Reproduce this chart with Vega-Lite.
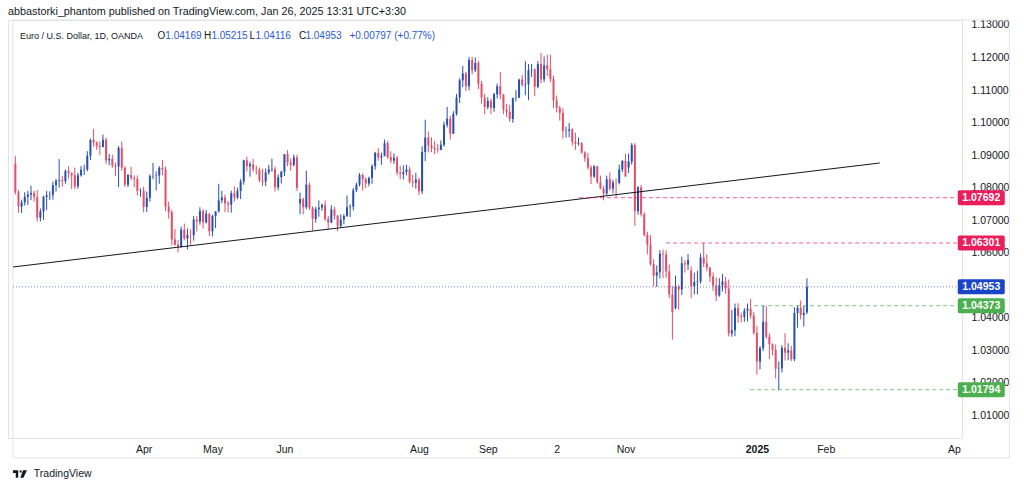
{
  "$schema": "https://vega.github.io/schema/vega-lite/v6.json",
  "width": 954,
  "height": 418,
  "autosize": "none",
  "padding": {"left": 8, "top": 20, "right": 62, "bottom": 52},
  "background": "#ffffff",
  "title": {"text": "abbastorki_phantom published on TradingView.com, Jan 26, 2025 13:31 UTC+3:30", "anchor": "start", "frame": "group", "offset": 3, "fontSize": 10.8, "fontWeight": "normal", "color": "#131722", "font": "Liberation Sans"},
  "config": {"view": {"stroke": "#e0e3eb"}, "font": "Liberation Sans", "axis": {"labelOverlap": false}},
  "datasets": {
    "candles": [
      {"d":"2024-02-02","i":-41,"o":1.0873,"h":1.0897,"l":1.0779,"c":1.0786},
      {"d":"2024-02-05","i":-40,"o":1.0786,"h":1.0793,"l":1.0723,"c":1.0742},
      {"d":"2024-02-06","i":-39,"o":1.0742,"h":1.0763,"l":1.0722,"c":1.0755},
      {"d":"2024-02-07","i":-38,"o":1.0755,"h":1.0786,"l":1.0745,"c":1.0772},
      {"d":"2024-02-08","i":-37,"o":1.0772,"h":1.0790,"l":1.0747,"c":1.0779},
      {"d":"2024-02-09","i":-36,"o":1.0779,"h":1.0806,"l":1.0762,"c":1.0784},
      {"d":"2024-02-12","i":-35,"o":1.0784,"h":1.0790,"l":1.0757,"c":1.0771},
      {"d":"2024-02-13","i":-34,"o":1.0771,"h":1.0793,"l":1.0696,"c":1.0708},
      {"d":"2024-02-14","i":-33,"o":1.0708,"h":1.0736,"l":1.0696,"c":1.0727},
      {"d":"2024-02-15","i":-32,"o":1.0727,"h":1.0775,"l":1.0701,"c":1.0772},
      {"d":"2024-02-16","i":-31,"o":1.0772,"h":1.0790,"l":1.0732,"c":1.0777},
      {"d":"2024-02-19","i":-30,"o":1.0777,"h":1.0789,"l":1.0762,"c":1.0778},
      {"d":"2024-02-20","i":-29,"o":1.0778,"h":1.0819,"l":1.0763,"c":1.0808},
      {"d":"2024-02-21","i":-28,"o":1.0808,"h":1.0827,"l":1.0788,"c":1.0821},
      {"d":"2024-02-22","i":-27,"o":1.0821,"h":1.0888,"l":1.0800,"c":1.0823},
      {"d":"2024-02-23","i":-26,"o":1.0823,"h":1.0837,"l":1.0803,"c":1.0820},
      {"d":"2024-02-26","i":-25,"o":1.0820,"h":1.0856,"l":1.0812,"c":1.0851},
      {"d":"2024-02-27","i":-24,"o":1.0851,"h":1.0866,"l":1.0828,"c":1.0845},
      {"d":"2024-02-28","i":-23,"o":1.0845,"h":1.0847,"l":1.0796,"c":1.0838},
      {"d":"2024-02-29","i":-22,"o":1.0838,"h":1.0862,"l":1.0795,"c":1.0804},
      {"d":"2024-03-01","i":-21,"o":1.0804,"h":1.0846,"l":1.0797,"c":1.0838},
      {"d":"2024-03-04","i":-20,"o":1.0838,"h":1.0867,"l":1.0834,"c":1.0855},
      {"d":"2024-03-05","i":-19,"o":1.0855,"h":1.0871,"l":1.0839,"c":1.0856},
      {"d":"2024-03-06","i":-18,"o":1.0856,"h":1.0912,"l":1.0850,"c":1.0898},
      {"d":"2024-03-07","i":-17,"o":1.0898,"h":1.0951,"l":1.0885,"c":1.0947},
      {"d":"2024-03-08","i":-16,"o":1.0947,"h":1.0981,"l":1.0926,"c":1.0938},
      {"d":"2024-03-11","i":-15,"o":1.0938,"h":1.0943,"l":1.0916,"c":1.0927},
      {"d":"2024-03-12","i":-14,"o":1.0928,"h":1.0942,"l":1.0900,"c":1.0925},
      {"d":"2024-03-13","i":-13,"o":1.0925,"h":1.0963,"l":1.0924,"c":1.0947},
      {"d":"2024-03-14","i":-12,"o":1.0947,"h":1.0954,"l":1.0873,"c":1.0884},
      {"d":"2024-03-15","i":-11,"o":1.0884,"h":1.0904,"l":1.0869,"c":1.0889},
      {"d":"2024-03-18","i":-10,"o":1.0889,"h":1.0902,"l":1.0861,"c":1.0868},
      {"d":"2024-03-19","i":-9,"o":1.0868,"h":1.0877,"l":1.0837,"c":1.0865},
      {"d":"2024-03-20","i":-8,"o":1.0865,"h":1.0928,"l":1.0802,"c":1.0922},
      {"d":"2024-03-21","i":-7,"o":1.0922,"h":1.0942,"l":1.0852,"c":1.0861},
      {"d":"2024-03-22","i":-6,"o":1.0861,"h":1.0866,"l":1.0802,"c":1.0809},
      {"d":"2024-03-25","i":-5,"o":1.0809,"h":1.0842,"l":1.0802,"c":1.0839},
      {"d":"2024-03-26","i":-4,"o":1.0839,"h":1.0864,"l":1.0823,"c":1.0830},
      {"d":"2024-03-27","i":-3,"o":1.0830,"h":1.0838,"l":1.0802,"c":1.0827},
      {"d":"2024-03-28","i":-2,"o":1.0827,"h":1.0838,"l":1.0776,"c":1.0790},
      {"d":"2024-03-29","i":-1,"o":1.0790,"h":1.0798,"l":1.0772,"c":1.0791},
      {"d":"2024-04-01","i":0,"o":1.0791,"h":1.0803,"l":1.0724,"c":1.0741},
      {"d":"2024-04-02","i":1,"o":1.0741,"h":1.0788,"l":1.0725,"c":1.0769},
      {"d":"2024-04-03","i":2,"o":1.0769,"h":1.0841,"l":1.0757,"c":1.0835},
      {"d":"2024-04-04","i":3,"o":1.0835,"h":1.0876,"l":1.0826,"c":1.0836},
      {"d":"2024-04-05","i":4,"o":1.0836,"h":1.0850,"l":1.0792,"c":1.0837},
      {"d":"2024-04-08","i":5,"o":1.0837,"h":1.0866,"l":1.0812,"c":1.0861},
      {"d":"2024-04-09","i":6,"o":1.0861,"h":1.0885,"l":1.0838,"c":1.0856},
      {"d":"2024-04-10","i":7,"o":1.0856,"h":1.0865,"l":1.0728,"c":1.0742},
      {"d":"2024-04-11","i":8,"o":1.0742,"h":1.0757,"l":1.0705,"c":1.0725},
      {"d":"2024-04-12","i":9,"o":1.0725,"h":1.0732,"l":1.0623,"c":1.0641},
      {"d":"2024-04-15","i":10,"o":1.0641,"h":1.0673,"l":1.0621,"c":1.0625},
      {"d":"2024-04-16","i":11,"o":1.0625,"h":1.0639,"l":1.0601,"c":1.0618},
      {"d":"2024-04-17","i":12,"o":1.0618,"h":1.0680,"l":1.0615,"c":1.0671},
      {"d":"2024-04-18","i":13,"o":1.0671,"h":1.0690,"l":1.0638,"c":1.0644},
      {"d":"2024-04-19","i":14,"o":1.0644,"h":1.0675,"l":1.0610,"c":1.0655},
      {"d":"2024-04-22","i":15,"o":1.0655,"h":1.0672,"l":1.0625,"c":1.0654},
      {"d":"2024-04-23","i":16,"o":1.0654,"h":1.0713,"l":1.0637,"c":1.0702},
      {"d":"2024-04-24","i":17,"o":1.0702,"h":1.0713,"l":1.0665,"c":1.0696},
      {"d":"2024-04-25","i":18,"o":1.0696,"h":1.0740,"l":1.0686,"c":1.0728},
      {"d":"2024-04-26","i":19,"o":1.0728,"h":1.0735,"l":1.0675,"c":1.0693},
      {"d":"2024-04-29","i":20,"o":1.0693,"h":1.0731,"l":1.0690,"c":1.0720},
      {"d":"2024-04-30","i":21,"o":1.0720,"h":1.0722,"l":1.0651,"c":1.0666},
      {"d":"2024-05-01","i":22,"o":1.0666,"h":1.0717,"l":1.0650,"c":1.0713},
      {"d":"2024-05-02","i":23,"o":1.0713,"h":1.0728,"l":1.0676,"c":1.0727},
      {"d":"2024-05-03","i":24,"o":1.0727,"h":1.0812,"l":1.0724,"c":1.0761},
      {"d":"2024-05-06","i":25,"o":1.0761,"h":1.0790,"l":1.0752,"c":1.0770},
      {"d":"2024-05-07","i":26,"o":1.0770,"h":1.0779,"l":1.0725,"c":1.0752},
      {"d":"2024-05-08","i":27,"o":1.0752,"h":1.0759,"l":1.0724,"c":1.0748},
      {"d":"2024-05-09","i":28,"o":1.0748,"h":1.0791,"l":1.0723,"c":1.0783},
      {"d":"2024-05-10","i":29,"o":1.0783,"h":1.0804,"l":1.0757,"c":1.0770},
      {"d":"2024-05-13","i":30,"o":1.0770,"h":1.0800,"l":1.0765,"c":1.0790},
      {"d":"2024-05-14","i":31,"o":1.0790,"h":1.0826,"l":1.0765,"c":1.0819},
      {"d":"2024-05-15","i":32,"o":1.0819,"h":1.0886,"l":1.0809,"c":1.0884},
      {"d":"2024-05-16","i":33,"o":1.0884,"h":1.0895,"l":1.0850,"c":1.0866},
      {"d":"2024-05-17","i":34,"o":1.0866,"h":1.0880,"l":1.0834,"c":1.0872},
      {"d":"2024-05-20","i":35,"o":1.0872,"h":1.0888,"l":1.0848,"c":1.0857},
      {"d":"2024-05-21","i":36,"o":1.0857,"h":1.0868,"l":1.0840,"c":1.0855},
      {"d":"2024-05-22","i":37,"o":1.0855,"h":1.0862,"l":1.0816,"c":1.0823},
      {"d":"2024-05-23","i":38,"o":1.0823,"h":1.0858,"l":1.0805,"c":1.0819},
      {"d":"2024-05-24","i":39,"o":1.0819,"h":1.0859,"l":1.0805,"c":1.0847},
      {"d":"2024-05-27","i":40,"o":1.0847,"h":1.0870,"l":1.0840,"c":1.0856},
      {"d":"2024-05-28","i":41,"o":1.0856,"h":1.0889,"l":1.0849,"c":1.0858},
      {"d":"2024-05-29","i":42,"o":1.0858,"h":1.0865,"l":1.0788,"c":1.0801},
      {"d":"2024-05-30","i":43,"o":1.0801,"h":1.0841,"l":1.0792,"c":1.0832},
      {"d":"2024-05-31","i":44,"o":1.0832,"h":1.0852,"l":1.0813,"c":1.0849},
      {"d":"2024-06-03","i":45,"o":1.0849,"h":1.0903,"l":1.0836,"c":1.0903},
      {"d":"2024-06-04","i":46,"o":1.0903,"h":1.0916,"l":1.0866,"c":1.0877},
      {"d":"2024-06-05","i":47,"o":1.0877,"h":1.0889,"l":1.0852,"c":1.0870},
      {"d":"2024-06-06","i":48,"o":1.0870,"h":1.0902,"l":1.0865,"c":1.0893},
      {"d":"2024-06-07","i":49,"o":1.0893,"h":1.0902,"l":1.0790,"c":1.0800},
      {"d":"2024-06-10","i":50,"o":1.0752,"h":1.0785,"l":1.0719,"c":1.0765},
      {"d":"2024-06-11","i":51,"o":1.0765,"h":1.0770,"l":1.0718,"c":1.0740},
      {"d":"2024-06-12","i":52,"o":1.0740,"h":1.0852,"l":1.0734,"c":1.0809},
      {"d":"2024-06-13","i":53,"o":1.0809,"h":1.0816,"l":1.0731,"c":1.0738},
      {"d":"2024-06-14","i":54,"o":1.0738,"h":1.0743,"l":1.0668,"c":1.0704},
      {"d":"2024-06-17","i":55,"o":1.0704,"h":1.0741,"l":1.0693,"c":1.0734},
      {"d":"2024-06-18","i":56,"o":1.0734,"h":1.0761,"l":1.0711,"c":1.0739},
      {"d":"2024-06-19","i":57,"o":1.0739,"h":1.0751,"l":1.0729,"c":1.0747},
      {"d":"2024-06-20","i":58,"o":1.0747,"h":1.0761,"l":1.0698,"c":1.0704},
      {"d":"2024-06-21","i":59,"o":1.0704,"h":1.0713,"l":1.0671,"c":1.0693},
      {"d":"2024-06-24","i":60,"o":1.0693,"h":1.0746,"l":1.0691,"c":1.0733},
      {"d":"2024-06-25","i":61,"o":1.0733,"h":1.0741,"l":1.0702,"c":1.0714},
      {"d":"2024-06-26","i":62,"o":1.0714,"h":1.0716,"l":1.0666,"c":1.0682},
      {"d":"2024-06-27","i":63,"o":1.0682,"h":1.0718,"l":1.0677,"c":1.0702},
      {"d":"2024-06-28","i":64,"o":1.0702,"h":1.0719,"l":1.0687,"c":1.0713},
      {"d":"2024-07-01","i":65,"o":1.0713,"h":1.0776,"l":1.0710,"c":1.0740},
      {"d":"2024-07-02","i":66,"o":1.0740,"h":1.0749,"l":1.0710,"c":1.0742},
      {"d":"2024-07-03","i":67,"o":1.0742,"h":1.0799,"l":1.0730,"c":1.0792},
      {"d":"2024-07-04","i":68,"o":1.0792,"h":1.0816,"l":1.0786,"c":1.0809},
      {"d":"2024-07-05","i":69,"o":1.0809,"h":1.0845,"l":1.0804,"c":1.0839},
      {"d":"2024-07-08","i":70,"o":1.0839,"h":1.0844,"l":1.0791,"c":1.0826},
      {"d":"2024-07-09","i":71,"o":1.0826,"h":1.0832,"l":1.0799,"c":1.0813},
      {"d":"2024-07-10","i":72,"o":1.0813,"h":1.0834,"l":1.0804,"c":1.0830},
      {"d":"2024-07-11","i":73,"o":1.0830,"h":1.0872,"l":1.0812,"c":1.0866},
      {"d":"2024-07-12","i":74,"o":1.0866,"h":1.0910,"l":1.0855,"c":1.0907},
      {"d":"2024-07-15","i":75,"o":1.0907,"h":1.0922,"l":1.0883,"c":1.0893},
      {"d":"2024-07-16","i":76,"o":1.0893,"h":1.0908,"l":1.0870,"c":1.0898},
      {"d":"2024-07-17","i":77,"o":1.0898,"h":1.0948,"l":1.0896,"c":1.0937},
      {"d":"2024-07-18","i":78,"o":1.0937,"h":1.0944,"l":1.0888,"c":1.0894},
      {"d":"2024-07-19","i":79,"o":1.0894,"h":1.0912,"l":1.0875,"c":1.0883},
      {"d":"2024-07-22","i":80,"o":1.0883,"h":1.0905,"l":1.0873,"c":1.0892},
      {"d":"2024-07-23","i":81,"o":1.0892,"h":1.0898,"l":1.0838,"c":1.0846},
      {"d":"2024-07-24","i":82,"o":1.0846,"h":1.0867,"l":1.0826,"c":1.0842},
      {"d":"2024-07-25","i":83,"o":1.0842,"h":1.0869,"l":1.0825,"c":1.0848},
      {"d":"2024-07-26","i":84,"o":1.0848,"h":1.0871,"l":1.0838,"c":1.0856},
      {"d":"2024-07-29","i":85,"o":1.0856,"h":1.0865,"l":1.0813,"c":1.0818},
      {"d":"2024-07-30","i":86,"o":1.0818,"h":1.0839,"l":1.0801,"c":1.0815},
      {"d":"2024-07-31","i":87,"o":1.0815,"h":1.0846,"l":1.0797,"c":1.0825},
      {"d":"2024-08-01","i":88,"o":1.0825,"h":1.0831,"l":1.0777,"c":1.0789},
      {"d":"2024-08-02","i":89,"o":1.0789,"h":1.0927,"l":1.0780,"c":1.0910},
      {"d":"2024-08-05","i":90,"o":1.0910,"h":1.1009,"l":1.0882,"c":1.0954},
      {"d":"2024-08-06","i":91,"o":1.0954,"h":1.0973,"l":1.0908,"c":1.0930},
      {"d":"2024-08-07","i":92,"o":1.0930,"h":1.0955,"l":1.0909,"c":1.0922},
      {"d":"2024-08-08","i":93,"o":1.0922,"h":1.0944,"l":1.0903,"c":1.0918},
      {"d":"2024-08-09","i":94,"o":1.0918,"h":1.0935,"l":1.0907,"c":1.0916},
      {"d":"2024-08-12","i":95,"o":1.0916,"h":1.0945,"l":1.0915,"c":1.0932},
      {"d":"2024-08-13","i":96,"o":1.0932,"h":1.1003,"l":1.0926,"c":1.0993},
      {"d":"2024-08-14","i":97,"o":1.0993,"h":1.1048,"l":1.0985,"c":1.1012},
      {"d":"2024-08-15","i":98,"o":1.1012,"h":1.1022,"l":1.0948,"c":1.0966},
      {"d":"2024-08-16","i":99,"o":1.0966,"h":1.1035,"l":1.0965,"c":1.1027},
      {"d":"2024-08-19","i":100,"o":1.1027,"h":1.1088,"l":1.1022,"c":1.1077},
      {"d":"2024-08-20","i":101,"o":1.1077,"h":1.1136,"l":1.1060,"c":1.1130},
      {"d":"2024-08-21","i":102,"o":1.1130,"h":1.1174,"l":1.1109,"c":1.1151},
      {"d":"2024-08-22","i":103,"o":1.1151,"h":1.1156,"l":1.1097,"c":1.1112},
      {"d":"2024-08-23","i":104,"o":1.1112,"h":1.1201,"l":1.1099,"c":1.1192},
      {"d":"2024-08-26","i":105,"o":1.1192,"h":1.1202,"l":1.1148,"c":1.1161},
      {"d":"2024-08-27","i":106,"o":1.1161,"h":1.1200,"l":1.1155,"c":1.1183},
      {"d":"2024-08-28","i":107,"o":1.1183,"h":1.1190,"l":1.1103,"c":1.1119},
      {"d":"2024-08-29","i":108,"o":1.1119,"h":1.1128,"l":1.1058,"c":1.1077},
      {"d":"2024-08-30","i":109,"o":1.1077,"h":1.1088,"l":1.1026,"c":1.1048},
      {"d":"2024-09-02","i":110,"o":1.1048,"h":1.1078,"l":1.1041,"c":1.1067},
      {"d":"2024-09-03","i":111,"o":1.1067,"h":1.1074,"l":1.1026,"c":1.1045},
      {"d":"2024-09-04","i":112,"o":1.1045,"h":1.1091,"l":1.1033,"c":1.1087},
      {"d":"2024-09-05","i":113,"o":1.1087,"h":1.1120,"l":1.1074,"c":1.1112},
      {"d":"2024-09-06","i":114,"o":1.1112,"h":1.1155,"l":1.1072,"c":1.1086},
      {"d":"2024-09-09","i":115,"o":1.1086,"h":1.1088,"l":1.1026,"c":1.1040},
      {"d":"2024-09-10","i":116,"o":1.1040,"h":1.1058,"l":1.1017,"c":1.1033},
      {"d":"2024-09-11","i":117,"o":1.1033,"h":1.1055,"l":1.1002,"c":1.1011},
      {"d":"2024-09-12","i":118,"o":1.1011,"h":1.1076,"l":1.0999,"c":1.1076},
      {"d":"2024-09-13","i":119,"o":1.1076,"h":1.1100,"l":1.1065,"c":1.1077},
      {"d":"2024-09-16","i":120,"o":1.1077,"h":1.1135,"l":1.1075,"c":1.1132},
      {"d":"2024-09-17","i":121,"o":1.1132,"h":1.1146,"l":1.1110,"c":1.1116},
      {"d":"2024-09-18","i":122,"o":1.1116,"h":1.1189,"l":1.1084,"c":1.1118},
      {"d":"2024-09-19","i":123,"o":1.1118,"h":1.1180,"l":1.1069,"c":1.1161},
      {"d":"2024-09-20","i":124,"o":1.1161,"h":1.1180,"l":1.1140,"c":1.1163},
      {"d":"2024-09-23","i":125,"o":1.1163,"h":1.1167,"l":1.1082,"c":1.1110},
      {"d":"2024-09-24","i":126,"o":1.1110,"h":1.1189,"l":1.1105,"c":1.1180},
      {"d":"2024-09-25","i":127,"o":1.1180,"h":1.1214,"l":1.1121,"c":1.1133},
      {"d":"2024-09-26","i":128,"o":1.1133,"h":1.1203,"l":1.1124,"c":1.1176},
      {"d":"2024-09-27","i":129,"o":1.1176,"h":1.1209,"l":1.1143,"c":1.1164},
      {"d":"2024-09-30","i":130,"o":1.1164,"h":1.1209,"l":1.1124,"c":1.1134},
      {"d":"2024-10-01","i":131,"o":1.1134,"h":1.1144,"l":1.1045,"c":1.1068},
      {"d":"2024-10-02","i":132,"o":1.1068,"h":1.1083,"l":1.1031,"c":1.1045},
      {"d":"2024-10-03","i":133,"o":1.1045,"h":1.1052,"l":1.1006,"c":1.1030},
      {"d":"2024-10-04","i":134,"o":1.1030,"h":1.1044,"l":1.0951,"c":1.0974},
      {"d":"2024-10-07","i":135,"o":1.0974,"h":1.0987,"l":1.0954,"c":1.0975},
      {"d":"2024-10-08","i":136,"o":1.0975,"h":1.0999,"l":1.0955,"c":1.0979},
      {"d":"2024-10-09","i":137,"o":1.0979,"h":1.0983,"l":1.0930,"c":1.0941},
      {"d":"2024-10-10","i":138,"o":1.0941,"h":1.0969,"l":1.0916,"c":1.0935},
      {"d":"2024-10-11","i":139,"o":1.0935,"h":1.0954,"l":1.0929,"c":1.0937},
      {"d":"2024-10-14","i":140,"o":1.0937,"h":1.0940,"l":1.0904,"c":1.0908},
      {"d":"2024-10-15","i":141,"o":1.0908,"h":1.0912,"l":1.0880,"c":1.0891},
      {"d":"2024-10-16","i":142,"o":1.0891,"h":1.0907,"l":1.0856,"c":1.0862},
      {"d":"2024-10-17","i":143,"o":1.0862,"h":1.0869,"l":1.0811,"c":1.0834},
      {"d":"2024-10-18","i":144,"o":1.0834,"h":1.0869,"l":1.0830,"c":1.0866},
      {"d":"2024-10-21","i":145,"o":1.0866,"h":1.0867,"l":1.0812,"c":1.0817},
      {"d":"2024-10-22","i":146,"o":1.0817,"h":1.0837,"l":1.0795,"c":1.0797},
      {"d":"2024-10-23","i":147,"o":1.0797,"h":1.0806,"l":1.0761,"c":1.0782},
      {"d":"2024-10-24","i":148,"o":1.0782,"h":1.0837,"l":1.0777,"c":1.0826},
      {"d":"2024-10-25","i":149,"o":1.0826,"h":1.0847,"l":1.0791,"c":1.0797},
      {"d":"2024-10-28","i":150,"o":1.0797,"h":1.0824,"l":1.0783,"c":1.0816},
      {"d":"2024-10-29","i":151,"o":1.0816,"h":1.0829,"l":1.0772,"c":1.0815},
      {"d":"2024-10-30","i":152,"o":1.0815,"h":1.0871,"l":1.0810,"c":1.0856},
      {"d":"2024-10-31","i":153,"o":1.0856,"h":1.0885,"l":1.0848,"c":1.0882},
      {"d":"2024-11-01","i":154,"o":1.0882,"h":1.0905,"l":1.0835,"c":1.0834},
      {"d":"2024-11-04","i":155,"o":1.0862,"h":1.0905,"l":1.0845,"c":1.0880},
      {"d":"2024-11-05","i":156,"o":1.0880,"h":1.0937,"l":1.0871,"c":1.0931},
      {"d":"2024-11-06","i":157,"o":1.0931,"h":1.0937,"l":1.0683,"c":1.0728},
      {"d":"2024-11-07","i":158,"o":1.0728,"h":1.0805,"l":1.0717,"c":1.0801},
      {"d":"2024-11-08","i":159,"o":1.0801,"h":1.0808,"l":1.0711,"c":1.0719},
      {"d":"2024-11-11","i":160,"o":1.0719,"h":1.0724,"l":1.0650,"c":1.0655},
      {"d":"2024-11-12","i":161,"o":1.0655,"h":1.0665,"l":1.0595,"c":1.0625},
      {"d":"2024-11-13","i":162,"o":1.0625,"h":1.0654,"l":1.0560,"c":1.0565},
      {"d":"2024-11-14","i":163,"o":1.0565,"h":1.0580,"l":1.0497,"c":1.0530},
      {"d":"2024-11-15","i":164,"o":1.0530,"h":1.0561,"l":1.0495,"c":1.0540},
      {"d":"2024-11-18","i":165,"o":1.0540,"h":1.0608,"l":1.0521,"c":1.0597},
      {"d":"2024-11-19","i":166,"o":1.0597,"h":1.0610,"l":1.0522,"c":1.0595},
      {"d":"2024-11-20","i":167,"o":1.0595,"h":1.0608,"l":1.0523,"c":1.0543},
      {"d":"2024-11-21","i":168,"o":1.0543,"h":1.0564,"l":1.0461,"c":1.0472},
      {"d":"2024-11-22","i":169,"o":1.0472,"h":1.0497,"l":1.0333,"c":1.0418},
      {"d":"2024-11-25","i":170,"o":1.0430,"h":1.0530,"l":1.0426,"c":1.0495},
      {"d":"2024-11-26","i":171,"o":1.0495,"h":1.0502,"l":1.0425,"c":1.0487},
      {"d":"2024-11-27","i":172,"o":1.0487,"h":1.0588,"l":1.0470,"c":1.0568},
      {"d":"2024-11-28","i":173,"o":1.0568,"h":1.0578,"l":1.0539,"c":1.0564},
      {"d":"2024-11-29","i":174,"o":1.0564,"h":1.0596,"l":1.0547,"c":1.0577},
      {"d":"2024-12-02","i":175,"o":1.0545,"h":1.0558,"l":1.0460,"c":1.0497},
      {"d":"2024-12-03","i":176,"o":1.0497,"h":1.0539,"l":1.0472,"c":1.0510},
      {"d":"2024-12-04","i":177,"o":1.0510,"h":1.0545,"l":1.0472,"c":1.0512},
      {"d":"2024-12-05","i":178,"o":1.0512,"h":1.0598,"l":1.0505,"c":1.0585},
      {"d":"2024-12-06","i":179,"o":1.0585,"h":1.0630,"l":1.0556,"c":1.0567},
      {"d":"2024-12-09","i":180,"o":1.0567,"h":1.0595,"l":1.0543,"c":1.0554},
      {"d":"2024-12-10","i":181,"o":1.0554,"h":1.0557,"l":1.0510,"c":1.0527},
      {"d":"2024-12-11","i":182,"o":1.0527,"h":1.0540,"l":1.0483,"c":1.0499},
      {"d":"2024-12-12","i":183,"o":1.0499,"h":1.0524,"l":1.0452,"c":1.0469},
      {"d":"2024-12-13","i":184,"o":1.0469,"h":1.0522,"l":1.0465,"c":1.0500},
      {"d":"2024-12-16","i":185,"o":1.0500,"h":1.0535,"l":1.0481,"c":1.0512},
      {"d":"2024-12-17","i":186,"o":1.0512,"h":1.0526,"l":1.0474,"c":1.0490},
      {"d":"2024-12-18","i":187,"o":1.0490,"h":1.0518,"l":1.0343,"c":1.0352},
      {"d":"2024-12-19","i":188,"o":1.0352,"h":1.0424,"l":1.0342,"c":1.0362},
      {"d":"2024-12-20","i":189,"o":1.0362,"h":1.0444,"l":1.0344,"c":1.0430},
      {"d":"2024-12-23","i":190,"o":1.0430,"h":1.0445,"l":1.0385,"c":1.0406},
      {"d":"2024-12-24","i":191,"o":1.0406,"h":1.0416,"l":1.0387,"c":1.0403},
      {"d":"2024-12-26","i":192,"o":1.0403,"h":1.0430,"l":1.0388,"c":1.0422},
      {"d":"2024-12-27","i":193,"o":1.0422,"h":1.0444,"l":1.0389,"c":1.0428},
      {"d":"2024-12-30","i":194,"o":1.0428,"h":1.0459,"l":1.0398,"c":1.0407},
      {"d":"2024-12-31","i":195,"o":1.0407,"h":1.0419,"l":1.0348,"c":1.0354},
      {"d":"2025-01-02","i":196,"o":1.0354,"h":1.0375,"l":1.0226,"c":1.0266},
      {"d":"2025-01-03","i":197,"o":1.0266,"h":1.0313,"l":1.0242,"c":1.0307},
      {"d":"2025-01-06","i":198,"o":1.0307,"h":1.0437,"l":1.0298,"c":1.0388},
      {"d":"2025-01-07","i":199,"o":1.0388,"h":1.0436,"l":1.0336,"c":1.0342},
      {"d":"2025-01-08","i":200,"o":1.0342,"h":1.0352,"l":1.0273,"c":1.0319},
      {"d":"2025-01-09","i":201,"o":1.0319,"h":1.0322,"l":1.0285,"c":1.0301},
      {"d":"2025-01-10","i":202,"o":1.0301,"h":1.0318,"l":1.0214,"c":1.0244},
      {"d":"2025-01-13","i":203,"o":1.0244,"h":1.0266,"l":1.0178,"c":1.0245},
      {"d":"2025-01-14","i":204,"o":1.0245,"h":1.0316,"l":1.0232,"c":1.0308},
      {"d":"2025-01-15","i":205,"o":1.0308,"h":1.0353,"l":1.0269,"c":1.0293},
      {"d":"2025-01-16","i":206,"o":1.0293,"h":1.0322,"l":1.0270,"c":1.0300},
      {"d":"2025-01-17","i":207,"o":1.0300,"h":1.0314,"l":1.0267,"c":1.0273},
      {"d":"2025-01-20","i":208,"o":1.0273,"h":1.0433,"l":1.0267,"c":1.0415},
      {"d":"2025-01-21","i":209,"o":1.0415,"h":1.0438,"l":1.0370,"c":1.0431},
      {"d":"2025-01-22","i":210,"o":1.0431,"h":1.0453,"l":1.0395,"c":1.0409},
      {"d":"2025-01-23","i":211,"o":1.0409,"h":1.0437,"l":1.0373,"c":1.0415},
      {"d":"2025-01-24","i":212,"o":1.04169,"h":1.05215,"l":1.04116,"c":1.04953}
    ],
    "trend": [{"i": -41.75, "p": 1.055629, "i2": 235.29, "p2": 1.087585}],
    "levels": [
      {"p": 1.07692, "from": 139.15, "kind": "res"},
      {"p": 1.06301, "from": 166.98, "kind": "res"},
      {"p": 1.04373, "from": 195.1, "kind": "sup"},
      {"p": 1.01794, "from": 193.86, "kind": "sup"}
    ],
    "tags": [
      {"p": 1.07692, "kind": "res"},
      {"p": 1.06301, "kind": "res"},
      {"p": 1.04953, "kind": "last"},
      {"p": 1.04373, "kind": "sup"},
      {"p": 1.01794, "kind": "sup"}
    ],
    "one": [{}]
  },
  "layer": [
    {
      "data": {"name": "one"},
      "mark": {"type": "rect", "fill": null, "fillOpacity": 0, "stroke": "#e0e3eb", "strokeWidth": 1},
      "encoding": {
        "x": {"datum": -41.75, "type": "quantitative",
          "scale": {"domain": [-41.75, 259.96], "nice": false, "zero": false},
          "axis": {"values": [0, 22, 45, 88, 110, 132, 154, 196, 218, 259], "tickCount": 40,
            "labelExpr": "datum.value==0?'Apr':datum.value==22?'May':datum.value==45?'Jun':datum.value==88?'Aug':datum.value==110?'Sep':datum.value==132?'2':datum.value==154?'Nov':datum.value==196?'2025':datum.value==218?'Feb':'Ap'",
            "ticks": false, "domain": false, "grid": false, "title": null,
            "labelPadding": 6, "labelFontSize": 10.5, "labelColor": "#131722",
            "labelFlush": false, "labelOverlap": false,
            "labelFontWeight": {"condition": {"test": "datum.value == 196", "value": "bold"}, "value": "normal"}}},
        "x2": {"datum": 276.7},
        "y": {"datum": 0.99694, "type": "quantitative",
          "scale": {"domain": [1.003086, 1.131524], "nice": false, "zero": false},
          "axis": {"orient": "right", "values": [1.01, 1.02, 1.03, 1.04, 1.06, 1.07, 1.08, 1.09, 1.10, 1.11, 1.12, 1.13], "tickCount": 30,
            "format": ".5f", "ticks": false, "domain": false, "grid": false, "title": null,
            "labelPadding": 9, "labelFontSize": 10.5, "labelColor": "#131722", "labelFlush": false, "labelOverlap": false}},
        "y2": {"datum": 1.131524}
      }
    },
    {
      "data": {"name": "candles"},
      "mark": {"type": "rule", "strokeWidth": 1},
      "encoding": {
        "x": {"field": "i", "type": "quantitative"},
        "y": {"field": "l", "type": "quantitative"},
        "y2": {"field": "h"},
        "color": {"condition": {"test": "datum.c >= datum.o", "value": "#2850b0"}, "value": "#e0506a"}
      }
    },
    {
      "data": {"name": "candles"},
      "mark": {"type": "bar", "width": 2},
      "encoding": {
        "x": {"field": "i", "type": "quantitative"},
        "y": {"field": "o", "type": "quantitative"},
        "y2": {"field": "c"},
        "color": {"condition": {"test": "datum.c >= datum.o", "value": "#2850b0"}, "value": "#e0506a"}
      }
    },
    {
      "data": {"name": "trend"},
      "mark": {"type": "rule", "color": "#131722", "strokeWidth": 1},
      "encoding": {
        "x": {"field": "i", "type": "quantitative"},
        "y": {"field": "p", "type": "quantitative"},
        "x2": {"field": "i2"},
        "y2": {"field": "p2"}
      }
    },
    {
      "data": {"name": "levels"},
      "mark": {"type": "rule", "strokeWidth": 1, "strokeDash": [4, 3], "opacity": 0.7},
      "encoding": {
        "x": {"field": "from", "type": "quantitative"},
        "x2": {"datum": 259.96},
        "y": {"field": "p", "type": "quantitative"},
        "color": {"field": "kind", "type": "nominal", "legend": null,
          "scale": {"domain": ["res", "sup", "last"], "range": ["#e91e5a", "#4caf50", "#1a45c8"]}}
      }
    },
    {
      "data": {"name": "one"},
      "mark": {"type": "rule", "strokeWidth": 1, "strokeDash": [1, 2], "color": "#4a62b0", "opacity": 0.8},
      "encoding": {
        "x": {"datum": -41.75, "type": "quantitative"},
        "x2": {"datum": 259.96},
        "y": {"datum": 1.04953, "type": "quantitative"}
      }
    },
    {
      "data": {"name": "tags"},
      "mark": {"type": "point", "shape": "M-0.92,-0.32H0.92Q1,-0.32 1,-0.24V0.24Q1,0.32 0.92,0.32H-0.92Q-1,0.32 -1,0.24V-0.24Q-1,-0.32 -0.92,-0.32Z", "size": 2209, "filled": true, "opacity": 1, "strokeWidth": 0},
      "encoding": {
        "x": {"datum": 267.71, "type": "quantitative"},
        "y": {"field": "p", "type": "quantitative"},
        "color": {"field": "kind", "type": "nominal", "legend": null}
      }
    },
    {
      "data": {"name": "tags"},
      "mark": {"type": "text", "color": "#ffffff", "fontSize": 10.5, "fontWeight": "bold", "align": "center", "baseline": "middle"},
      "encoding": {
        "x": {"datum": 267.71, "type": "quantitative"},
        "y": {"field": "p", "type": "quantitative"},
        "text": {"field": "p", "type": "quantitative", "format": ".5f"}
      }
    },
    {"data": {"name": "one"}, "mark": {"type": "text", "text": "Euro / U.S. Dollar, 1D, OANDA", "align": "left", "baseline": "middle", "fontSize": 9, "color": "#131722"},
     "encoding": {"x": {"datum": -39.53, "type": "quantitative"}, "y": {"datum": 1.12676, "type": "quantitative"}}},
    {"data": {"name": "one"}, "mark": {"type": "text", "text": "O", "align": "left", "baseline": "middle", "fontSize": 10, "color": "#131722"},
     "encoding": {"x": {"datum": 4.43, "type": "quantitative"}, "y": {"datum": 1.12676, "type": "quantitative"}}},
    {"data": {"name": "one"}, "mark": {"type": "text", "text": "1.04169", "align": "left", "baseline": "middle", "fontSize": 10, "color": "#2a5bd7"},
     "encoding": {"x": {"datum": 6.95, "type": "quantitative"}, "y": {"datum": 1.12676, "type": "quantitative"}}},
    {"data": {"name": "one"}, "mark": {"type": "text", "text": "H", "align": "left", "baseline": "middle", "fontSize": 10, "color": "#131722"},
     "encoding": {"x": {"datum": 19.29, "type": "quantitative"}, "y": {"datum": 1.12676, "type": "quantitative"}}},
    {"data": {"name": "one"}, "mark": {"type": "text", "text": "1.05215", "align": "left", "baseline": "middle", "fontSize": 10, "color": "#2a5bd7"},
     "encoding": {"x": {"datum": 21.66, "type": "quantitative"}, "y": {"datum": 1.12676, "type": "quantitative"}}},
    {"data": {"name": "one"}, "mark": {"type": "text", "text": "L", "align": "left", "baseline": "middle", "fontSize": 10, "color": "#131722"},
     "encoding": {"x": {"datum": 33.84, "type": "quantitative"}, "y": {"datum": 1.12676, "type": "quantitative"}}},
    {"data": {"name": "one"}, "mark": {"type": "text", "text": "1.04116", "align": "left", "baseline": "middle", "fontSize": 10, "color": "#2a5bd7"},
     "encoding": {"x": {"datum": 35.74, "type": "quantitative"}, "y": {"datum": 1.12676, "type": "quantitative"}}},
    {"data": {"name": "one"}, "mark": {"type": "text", "text": "C", "align": "left", "baseline": "middle", "fontSize": 10, "color": "#131722"},
     "encoding": {"x": {"datum": 49.65, "type": "quantitative"}, "y": {"datum": 1.12676, "type": "quantitative"}}},
    {"data": {"name": "one"}, "mark": {"type": "text", "text": "1.04953", "align": "left", "baseline": "middle", "fontSize": 10, "color": "#2a5bd7"},
     "encoding": {"x": {"datum": 51.71, "type": "quantitative"}, "y": {"datum": 1.12676, "type": "quantitative"}}},
    {"data": {"name": "one"}, "mark": {"type": "text", "text": "+0.00797 (+0.77%)", "align": "left", "baseline": "middle", "fontSize": 10, "color": "#2a5bd7"},
     "encoding": {"x": {"datum": 65.78, "type": "quantitative"}, "y": {"datum": 1.12676, "type": "quantitative"}}},
    {"data": {"name": "one"}, "mark": {"type": "point", "shape": "M-1,-0.55H-0.25V0.55H-0.6V-0.15H-1Z M-0.05,-0.5H0.25V-0.2H-0.05Z M0.45,-0.55H1L0.5,0.55H0.05Z", "size": 196, "filled": true, "color": "#131722", "opacity": 1, "strokeWidth": 0},
     "encoding": {"x": {"datum": -39.53, "type": "quantitative"}, "y": {"datum": 0.99203, "type": "quantitative"}}},
    {"data": {"name": "one"}, "mark": {"type": "text", "text": "TradingView", "align": "left", "baseline": "middle", "fontSize": 10.5, "color": "#131722"},
     "encoding": {"x": {"datum": -35.1, "type": "quantitative"}, "y": {"datum": 0.99203, "type": "quantitative"}}}
  ]
}
